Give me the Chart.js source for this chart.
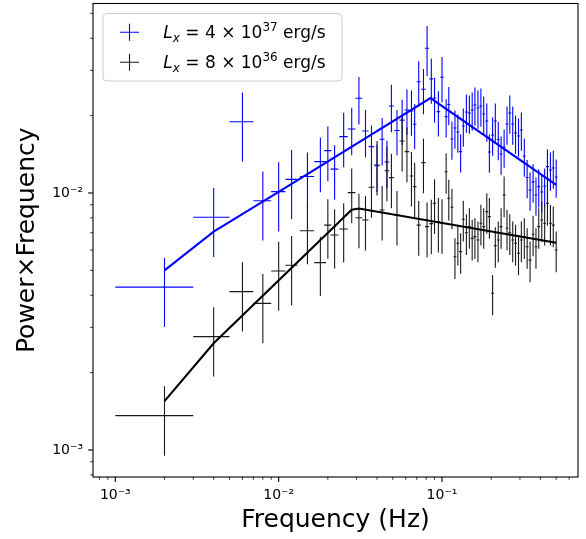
<!DOCTYPE html>
<html>
<head>
<meta charset="utf-8">
<script src="https://cdn.jsdelivr.net/npm/chart.js@4.4.1/dist/chart.umd.min.js"></script>
<style>
  html, body { margin: 0; padding: 0; background: #fff; }
</style>
</head>
<body>
<canvas id="psdChart" width="586" height="539"></canvas>
<script>
// frequency bins (Hz), same binning for both observations
const freq = [0.002, 0.004, 0.006, 0.008, 0.010, 0.012, 0.015, 0.018, 0.020, 0.022,
  0.025, 0.028, 0.031, 0.034, 0.037, 0.040, 0.043, 0.046, 0.049, 0.053,
  0.057, 0.061, 0.065, 0.068, 0.072, 0.077, 0.081, 0.086, 0.090, 0.095,
  0.100, 0.106, 0.110, 0.115, 0.120, 0.125, 0.130, 0.135, 0.141, 0.147,
  0.153, 0.159, 0.166, 0.173, 0.180, 0.188, 0.195, 0.204, 0.212, 0.221,
  0.230, 0.240, 0.250, 0.260, 0.271, 0.282, 0.294, 0.306, 0.319, 0.332,
  0.346, 0.361, 0.376, 0.391, 0.408, 0.425, 0.442, 0.461, 0.480, 0.500];
// half bin width
const freqErr = [0.001, 0.001, 0.001, 0.001, 0.001, 0.001, 0.0015, 0.0015, 0.001, 0.0012,
  0.0015, 0.0015, 0.0015, 0.0015, 0.0015, 0.0015, 0.0015, 0.0015, 0.0017, 0.002,
  0.002, 0.002, 0.0017, 0.0017, 0.002, 0.0023, 0.0023, 0.0023, 0.0022, 0.0024,
  0.0025, 0.0022, 0.0023, 0.0024, 0.0025, 0.0026, 0.0027, 0.0028, 0.0029, 0.003,
  0.0031, 0.0033, 0.0034, 0.0035, 0.0037, 0.0038, 0.004, 0.0042, 0.0043, 0.0045,
  0.0047, 0.0049, 0.0051, 0.0053, 0.0056, 0.0058, 0.006, 0.0063, 0.0065, 0.0068,
  0.0071, 0.0074, 0.0077, 0.008, 0.0084, 0.0087, 0.0091, 0.0094, 0.0098, 0.01];

// Lx = 4e37 erg/s
const powHigh = [0.0043, 0.00804, 0.01894, 0.00933, 0.01012, 0.0113, 0.01159, 0.01324, 0.01461, 0.01238,
  0.01656, 0.01774, 0.02336, 0.01743, 0.01514, 0.01277, 0.01619, 0.0132, 0.0218, 0.01751,
  0.0192, 0.02104, 0.02085, 0.0185, 0.0271, 0.02532, 0.03656, 0.02778, 0.02342, 0.02072,
  0.0282, 0.01981, 0.0221, 0.01622, 0.0179, 0.01727, 0.01448, 0.01823, 0.02066, 0.02048,
  0.02104, 0.022, 0.02142, 0.0218, 0.02029, 0.01906, 0.01444, 0.01682, 0.01906, 0.01615,
  0.01418, 0.0151, 0.01856, 0.02048, 0.01856, 0.01712, 0.01666, 0.01759, 0.01393, 0.01149,
  0.01027, 0.01104, 0.00982, 0.01058, 0.01009, 0.01065, 0.01266, 0.01229, 0.01251, 0.01154];
const powHighErr = [0.00129, 0.00241, 0.00568, 0.0028, 0.00304, 0.00339, 0.00278, 0.00318, 0.00351, 0.00297,
  0.00397, 0.00373, 0.00491, 0.00366, 0.00318, 0.00268, 0.0034, 0.00277, 0.00458, 0.0035,
  0.00384, 0.00421, 0.00417, 0.0037, 0.00542, 0.00506, 0.00804, 0.00556, 0.00468, 0.00414,
  0.00564, 0.00337, 0.00376, 0.00276, 0.00304, 0.00294, 0.00246, 0.0031, 0.00351, 0.00348,
  0.00358, 0.00374, 0.00364, 0.00371, 0.00345, 0.00324, 0.00245, 0.00286, 0.00324, 0.00275,
  0.00241, 0.00257, 0.00316, 0.00348, 0.00316, 0.00291, 0.00283, 0.00299, 0.00237, 0.00195,
  0.00175, 0.00188, 0.00167, 0.0018, 0.00172, 0.00181, 0.00215, 0.00209, 0.00213, 0.00196];

// Lx = 8e36 erg/s
const powLow = [0.00136, 0.00276, 0.00413, 0.00372, 0.00497, 0.00523, 0.00713, 0.00536, 0.0075, 0.00686,
  0.00724, 0.01003, 0.00801, 0.00785, 0.01052, 0.01285, 0.00859, 0.01221, 0.01147, 0.00821,
  0.01594, 0.01448, 0.01164, 0.01058, 0.0075, 0.01312, 0.0074, 0.0076, 0.00912, 0.00773,
  0.00763, 0.0121, 0.00954, 0.0088, 0.00565, 0.00637, 0.00591, 0.0079, 0.007, 0.0074,
  0.00666, 0.00676, 0.00656, 0.00762, 0.0074, 0.00846, 0.00809, 0.00407, 0.00624, 0.00656,
  0.0074, 0.00982, 0.00729, 0.007, 0.00656, 0.00637, 0.00583, 0.00656, 0.00676, 0.00618,
  0.00548, 0.00691, 0.00618, 0.0074, 0.00785, 0.00762, 0.00912, 0.00762, 0.0075, 0.006];
const powLowErr = [0.00041, 0.00083, 0.00124, 0.00112, 0.00149, 0.00157, 0.00185, 0.00139, 0.00195, 0.00178,
  0.00188, 0.00241, 0.00192, 0.00188, 0.00252, 0.00308, 0.00206, 0.00293, 0.00275, 0.00197,
  0.00383, 0.00348, 0.00279, 0.00254, 0.0018, 0.00315, 0.00178, 0.00182, 0.00219, 0.00186,
  0.00183, 0.00218, 0.00172, 0.00158, 0.00102, 0.00115, 0.00106, 0.00142, 0.00126, 0.00133,
  0.0012, 0.00122, 0.00118, 0.00137, 0.00133, 0.00152, 0.00146, 0.00073, 0.00112, 0.00118,
  0.00133, 0.00177, 0.00131, 0.00126, 0.00118, 0.00115, 0.00105, 0.00118, 0.00122, 0.00111,
  0.00099, 0.00124, 0.00111, 0.00133, 0.00141, 0.00137, 0.00164, 0.00137, 0.00135, 0.00108];

// broken power-law fits
const modelHighFreq = [0.002, 0.004, 0.010, 0.085, 0.500];
const modelHigh = [0.0050, 0.00707, 0.0101, 0.0234, 0.01075];
const modelLowFreq = [0.002, 0.004, 0.028, 0.031, 0.500];
const modelLow = [0.00155, 0.0026, 0.0086, 0.0087, 0.0064];

// axis ticks
const xTickValues = [1e-3, 1e-2, 1e-1];
const xTickLabels = ['10⁻³', '10⁻²', '10⁻¹'];
const yTickValues = [1e-3, 1e-2];
const yTickLabels = ['10⁻³', '10⁻²'];

// legend text: Lx = m × 10^e erg/s
const legendMantissa = ['4', '8'];
const legendExponent = ['37', '36'];

const FONT = 'DejaVu Sans';

function isDecade(v) {
  const l = Math.log10(v);
  return Math.abs(l - Math.round(l)) < 1e-6;
}

function logTicks(min, max) {
  const out = [];
  for (let e = Math.floor(Math.log10(min)); e <= Math.ceil(Math.log10(max)); e++) {
    for (let m = 1; m <= 9; m++) {
      const v = m * Math.pow(10, e);
      if (v >= min && v <= max) out.push({ value: v });
    }
  }
  return out;
}

function tickLabel(v, values, labels) {
  const i = values.findIndex(t => Math.abs(v / t - 1) < 1e-6);
  return i >= 0 ? labels[i] : '';
}

// crosses: x error = bin width, y error = 1 sigma
const errorBars = {
  id: 'errorBars',
  beforeDatasetsDraw(chart) {
    const { ctx, chartArea: a, scales: { x, y } } = chart;
    ctx.save();
    ctx.beginPath();
    ctx.rect(a.left, a.top, a.right - a.left, a.bottom - a.top);
    ctx.clip();
    chart.data.datasets.forEach(ds => {
      if (!ds.yErr) return;
      ctx.strokeStyle = ds.errColor;
      ctx.lineWidth = 1.1;
      ctx.beginPath();
      ds.data.forEach((p, i) => {
        const px = x.getPixelForValue(p.x);
        const py = y.getPixelForValue(p.y);
        ctx.moveTo(x.getPixelForValue(p.x - ds.xErr[i]), py);
        ctx.lineTo(x.getPixelForValue(p.x + ds.xErr[i]), py);
        ctx.moveTo(px, y.getPixelForValue(p.y + ds.yErr[i]));
        ctx.lineTo(px, y.getPixelForValue(p.y - ds.yErr[i]));
      });
      ctx.stroke();
    });
    ctx.restore();
  }
};

// box + outward tick marks, matplotlib style
const frame = {
  id: 'frame',
  afterDraw(chart) {
    const { ctx, chartArea: a, scales: { x, y } } = chart;
    ctx.save();
    ctx.strokeStyle = '#000';
    ctx.lineWidth = 1.1;
    ctx.strokeRect(a.left, a.top, a.right - a.left, a.bottom - a.top);
    x.ticks.forEach(t => {
      const major = isDecade(t.value);
      const px = x.getPixelForValue(t.value);
      ctx.lineWidth = major ? 1.1 : 0.8;
      ctx.beginPath();
      ctx.moveTo(px, a.bottom);
      ctx.lineTo(px, a.bottom + (major ? 4.9 : 2.8));
      ctx.stroke();
    });
    y.ticks.forEach(t => {
      const major = isDecade(t.value);
      const py = y.getPixelForValue(t.value);
      ctx.lineWidth = major ? 1.1 : 0.8;
      ctx.beginPath();
      ctx.moveTo(a.left, py);
      ctx.lineTo(a.left - (major ? 4.9 : 2.8), py);
      ctx.stroke();
    });
    ctx.restore();
  }
};

// legend with subscript / superscript
const mathLegend = {
  id: 'mathLegend',
  afterDraw(chart) {
    const { ctx, chartArea: a } = chart;
    const bx = a.left + 10, by = a.top + 10, bw = 239, bh = 67.5, r = 4;
    ctx.save();
    ctx.beginPath();
    ctx.moveTo(bx + r, by);
    ctx.arcTo(bx + bw, by, bx + bw, by + bh, r);
    ctx.arcTo(bx + bw, by + bh, bx, by + bh, r);
    ctx.arcTo(bx, by + bh, bx, by, r);
    ctx.arcTo(bx, by, bx + bw, by, r);
    ctx.closePath();
    ctx.fillStyle = 'rgba(255,255,255,0.8)';
    ctx.fill();
    ctx.strokeStyle = '#cccccc';
    ctx.lineWidth = 1;
    ctx.stroke();

    const sets = chart.data.datasets.filter(d => d.yErr);
    sets.forEach((ds, i) => {
      const base = by + 24.8 + i * 30;
      const cx = bx + 26.5, cy = base - 6;
      ctx.strokeStyle = ds.errColor;
      ctx.lineWidth = 1.1;
      ctx.beginPath();
      ctx.moveTo(cx - 9.5, cy); ctx.lineTo(cx + 9.5, cy);
      ctx.moveTo(cx, cy - 8.5); ctx.lineTo(cx, cy + 8.5);
      ctx.stroke();

      const pieces = [
        { text: 'L', font: `italic 17px "${FONT}"`, dy: 0 },
        { text: 'x', font: `italic 12px "${FONT}"`, dy: 3.5 },
        { text: ' = ' + legendMantissa[i] + ' × 10', font: `17px "${FONT}"`, dy: 0 },
        { text: legendExponent[i], font: `12px "${FONT}"`, dy: -7 },
        { text: ' erg/s', font: `17px "${FONT}"`, dy: 0 }
      ];
      let tx = bx + 60.3;
      ctx.fillStyle = '#000';
      ctx.textBaseline = 'alphabetic';
      ctx.textAlign = 'left';
      pieces.forEach(p => {
        ctx.font = p.font;
        ctx.fillText(p.text, tx, base + p.dy);
        tx += ctx.measureText(p.text).width;
      });
    });
    ctx.restore();
  }
};

const psdChart = new Chart(document.getElementById('psdChart'), {
  type: 'scatter',
  data: {
    datasets: [
      {
        label: 'Lx = 4×10^37 erg/s',
        data: freq.map((f, i) => ({ x: f, y: powHigh[i] })),
        xErr: freqErr, yErr: powHighErr, errColor: '#0000ff',
        pointRadius: 0, showLine: false
      },
      {
        label: 'Lx = 8×10^36 erg/s',
        data: freq.map((f, i) => ({ x: f, y: powLow[i] })),
        xErr: freqErr, yErr: powLowErr, errColor: '#1a1a1a',
        pointRadius: 0, showLine: false
      },
      {
        label: 'fit 4e37',
        data: modelHighFreq.map((f, i) => ({ x: f, y: modelHigh[i] })),
        showLine: true, borderColor: '#0000ff', borderWidth: 2.1,
        pointRadius: 0, tension: 0
      },
      {
        label: 'fit 8e36',
        data: modelLowFreq.map((f, i) => ({ x: f, y: modelLow[i] })),
        showLine: true, borderColor: '#000000', borderWidth: 2.1,
        pointRadius: 0, tension: 0
      }
    ]
  },
  options: {
    responsive: false,
    animation: false,
    events: [],
    layout: { padding: { top: 3.5, right: 8, bottom: 0, left: 0 }, autoPadding: false },
    plugins: { legend: { display: false }, tooltip: { enabled: false } },
    scales: {
      x: {
        type: 'logarithmic',
        min: 7.3e-4,
        max: 0.68,
        grid: { display: false, drawTicks: false },
        border: { display: false },
        afterFit: s => { s.height = 62; s.paddingLeft = 0; s.paddingRight = 0; },
        afterBuildTicks: s => { s.ticks = logTicks(s.min, s.max); },
        ticks: {
          autoSkip: false, maxRotation: 0, minRotation: 0, padding: 10,
          color: '#000', font: { family: FONT, size: 14 },
          callback: v => tickLabel(v, xTickValues, xTickLabels)
        },
        title: {
          display: true, text: 'Frequency (Hz)', color: '#000',
          font: { family: FONT, size: 25 }, padding: { top: 0, bottom: 3.5 }
        }
      },
      y: {
        type: 'logarithmic',
        min: 7.85e-4,
        max: 0.0546,
        grid: { display: false, drawTicks: false },
        border: { display: false },
        afterFit: s => { s.width = 93; s.paddingTop = 0; s.paddingBottom = 0; },
        afterBuildTicks: s => { s.ticks = logTicks(s.min, s.max); },
        ticks: {
          autoSkip: false, padding: 10,
          color: '#000', font: { family: FONT, size: 14 },
          callback: v => tickLabel(v, yTickValues, yTickLabels)
        },
        title: {
          display: true, text: 'Power×Frequency', color: '#000',
          font: { family: FONT, size: 25 }, padding: { top: 12, bottom: 0 }
        }
      }
    }
  },
  plugins: [errorBars, frame, mathLegend]
});
</script>
</body>
</html>
